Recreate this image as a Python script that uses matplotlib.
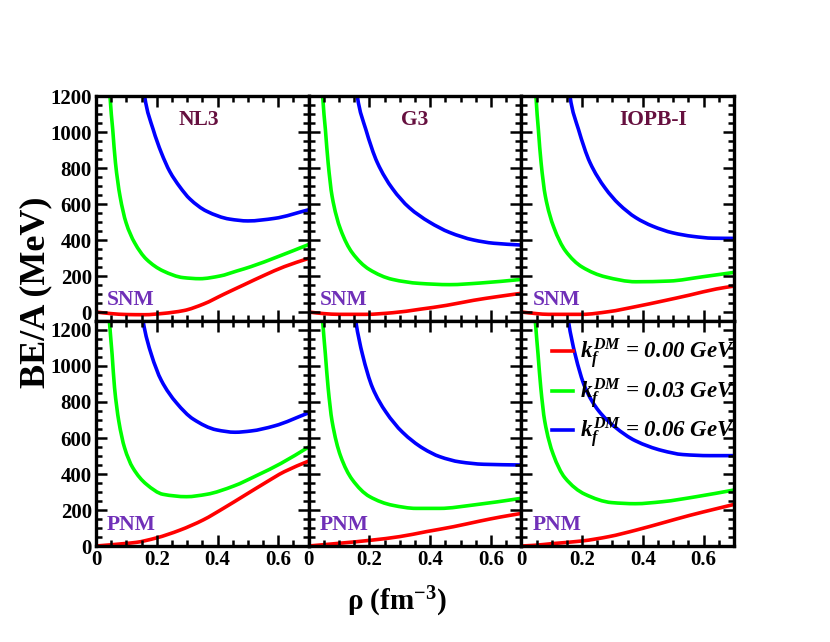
import matplotlib
matplotlib.use("Agg")
import matplotlib.pyplot as plt
from matplotlib.ticker import MultipleLocator
from matplotlib.path import Path
from matplotlib.patches import PathPatch
from matplotlib.lines import Line2D

plt.rcParams['font.family'] = ['Liberation Serif', 'DejaVu Serif']
plt.rcParams['font.weight'] = 'bold'
plt.rcParams['mathtext.fontset'] = 'custom'
plt.rcParams['mathtext.rm'] = 'Liberation Serif:bold'
plt.rcParams['mathtext.it'] = 'Liberation Serif:italic:bold'
plt.rcParams['mathtext.bf'] = 'Liberation Serif:bold'

models = ["NL3", "G3", "IOPB-I"]
matter = ["SNM", "PNM"]
kf_labels = ["0.00", "0.03", "0.06"]
colors = ["#ff0000", "#00ff00", "#0000ff"]

# ---- SNM data (rho in fm^-3, BE/A in MeV) ----
nl3_snm_red_x = [0, 0.05, 0.1, 0.16, 0.22, 0.289, 0.355, 0.42, 0.488, 0.554, 0.62, 0.7]
nl3_snm_red_y = [0, -9, -14, -15, -8, 8, 45, 98, 152, 204, 252, 298]
nl3_snm_green_x = [0.042, 0.046, 0.055, 0.064, 0.079, 0.099, 0.127, 0.166, 0.221, 0.287, 0.342, 0.408, 0.464, 0.51, 0.598, 0.7]
nl3_snm_green_y = [1350, 1200, 1015, 830, 644, 496, 385, 293, 228, 191, 185, 200, 228, 252, 307, 375]
nl3_snm_blue_x = [0.155, 0.16, 0.188, 0.215, 0.243, 0.276, 0.309, 0.364, 0.44, 0.5, 0.587, 0.7]
nl3_snm_blue_y = [1300, 1200, 1015, 885, 780, 695, 628, 560, 516, 506, 520, 568]

g3_snm_red_x = [0, 0.05, 0.1, 0.188, 0.277, 0.365, 0.454, 0.543, 0.62, 0.7]
g3_snm_red_y = [0, -9, -13, -13, -4, 15, 37, 65, 85, 104]
g3_snm_green_x = [0.042, 0.046, 0.055, 0.064, 0.077, 0.105, 0.143, 0.199, 0.276, 0.364, 0.464, 0.565, 0.7]
g3_snm_green_y = [1350, 1200, 1015, 830, 644, 459, 330, 237, 181, 159, 152, 161, 181]
g3_snm_blue_x = [0.155, 0.16, 0.188, 0.226, 0.276, 0.331, 0.397, 0.464, 0.543, 0.609, 0.7]
g3_snm_blue_y = [1300, 1200, 1015, 830, 685, 580, 500, 442, 400, 382, 372]

iopb_snm_red_x = [0, 0.05, 0.089, 0.2, 0.288, 0.377, 0.465, 0.554, 0.642, 0.7]
iopb_snm_red_y = [0, -9, -13, -13, 2, 30, 61, 94, 128, 144]
iopb_snm_green_x = [0.044, 0.048, 0.056, 0.065, 0.079, 0.107, 0.145, 0.2, 0.277, 0.377, 0.487, 0.598, 0.7]
iopb_snm_green_y = [1350, 1200, 1015, 830, 644, 470, 340, 250, 195, 168, 172, 196, 220]
iopb_snm_blue_x = [0.155, 0.16, 0.188, 0.226, 0.276, 0.321, 0.377, 0.432, 0.498, 0.565, 0.631, 0.7]
iopb_snm_blue_y = [1300, 1200, 1015, 830, 688, 600, 524, 477, 440, 420, 410, 409]

# ---- PNM data ----
nl3_pnm_red_x = [0, 0.044, 0.09, 0.132, 0.199, 0.276, 0.353, 0.42, 0.488, 0.554, 0.62, 0.7]
nl3_pnm_red_y = [0, 6, 13, 20, 45, 88, 145, 210, 280, 348, 413, 472]
nl3_pnm_green_x = [0.04, 0.044, 0.053, 0.061, 0.075, 0.094, 0.121, 0.166, 0.221, 0.298, 0.364, 0.453, 0.532, 0.609, 0.7]
nl3_pnm_green_y = [1350, 1250, 1065, 880, 694, 546, 435, 343, 287, 274, 287, 333, 394, 459, 550]
nl3_pnm_blue_x = [0.15, 0.155, 0.182, 0.215, 0.265, 0.32, 0.397, 0.458, 0.51, 0.587, 0.7]
nl3_pnm_blue_y = [1320, 1250, 1065, 920, 795, 705, 645, 632, 639, 667, 740]

g3_pnm_red_x = [0, 0.1, 0.21, 0.299, 0.388, 0.476, 0.565, 0.631, 0.7]
g3_pnm_red_y = [0, 15, 33, 52, 80, 107, 139, 161, 181]
g3_pnm_green_x = [0.042, 0.046, 0.055, 0.064, 0.077, 0.105, 0.143, 0.2, 0.277, 0.354, 0.432, 0.543, 0.7]
g3_pnm_green_y = [1350, 1250, 1065, 880, 694, 500, 370, 275, 226, 209, 209, 228, 265]
g3_pnm_blue_x = [0.15, 0.155, 0.177, 0.21, 0.254, 0.309, 0.377, 0.432, 0.498, 0.576, 0.7]
g3_pnm_blue_y = [1320, 1250, 1065, 880, 745, 632, 542, 496, 467, 454, 450]

iopb_pnm_red_x = [0, 0.044, 0.1, 0.2, 0.288, 0.377, 0.464, 0.554, 0.642, 0.7]
iopb_pnm_red_y = [0, 4, 13, 28, 52, 88, 128, 170, 207, 231]
iopb_pnm_green_x = [0.042, 0.046, 0.055, 0.064, 0.077, 0.105, 0.143, 0.21, 0.298, 0.375, 0.464, 0.576, 0.7]
iopb_pnm_green_y = [1350, 1250, 1065, 880, 694, 509, 380, 287, 241, 235, 246, 274, 311]
iopb_pnm_blue_x = [0.15, 0.155, 0.177, 0.21, 0.254, 0.309, 0.375, 0.464, 0.532, 0.62, 0.7]
iopb_pnm_blue_y = [1320, 1250, 1065, 880, 752, 660, 585, 530, 508, 502, 502]

panels = [
    [  # SNM row
        [(nl3_snm_red_x, nl3_snm_red_y), (nl3_snm_green_x, nl3_snm_green_y), (nl3_snm_blue_x, nl3_snm_blue_y)],
        [(g3_snm_red_x, g3_snm_red_y), (g3_snm_green_x, g3_snm_green_y), (g3_snm_blue_x, g3_snm_blue_y)],
        [(iopb_snm_red_x, iopb_snm_red_y), (iopb_snm_green_x, iopb_snm_green_y), (iopb_snm_blue_x, iopb_snm_blue_y)],
    ],
    [  # PNM row
        [(nl3_pnm_red_x, nl3_pnm_red_y), (nl3_pnm_green_x, nl3_pnm_green_y), (nl3_pnm_blue_x, nl3_pnm_blue_y)],
        [(g3_pnm_red_x, g3_pnm_red_y), (g3_pnm_green_x, g3_pnm_green_y), (g3_pnm_blue_x, g3_pnm_blue_y)],
        [(iopb_pnm_red_x, iopb_pnm_red_y), (iopb_pnm_green_x, iopb_pnm_green_y), (iopb_pnm_blue_x, iopb_pnm_blue_y)],
    ],
]


def smooth_path(xs, ys):
    """Cubic Bezier path passing through the read points (shape-preserving tangents)."""
    n = len(xs)
    h = [xs[i + 1] - xs[i] for i in range(n - 1)]
    d = [(ys[i + 1] - ys[i]) / h[i] for i in range(n - 1)]
    m = [0.0] * n
    m[0], m[-1] = d[0], d[-1]
    for i in range(1, n - 1):
        if d[i - 1] * d[i] <= 0:
            m[i] = 0.0
        else:
            w1 = 2 * h[i] + h[i - 1]
            w2 = h[i] + 2 * h[i - 1]
            m[i] = (w1 + w2) / (w1 / d[i - 1] + w2 / d[i])
    verts = [(xs[0], ys[0])]
    codes = [Path.MOVETO]
    for i in range(n - 1):
        verts += [(xs[i] + h[i] / 3, ys[i] + m[i] * h[i] / 3),
                  (xs[i + 1] - h[i] / 3, ys[i + 1] - m[i + 1] * h[i] / 3),
                  (xs[i + 1], ys[i + 1])]
        codes += [Path.CURVE4] * 3
    return Path(verts, codes)


ylims = [(-50, 1200), (0, 1250)]
name_x = [0.483, 0.5, 0.62]

fig = plt.figure(figsize=(8.3, 6.42), dpi=100)
left, right, top, bottom = 96 / 830, 734 / 830, 1 - 96 / 642, 1 - 546 / 642
gs = fig.add_gridspec(2, 3, left=left, right=right, top=top, bottom=bottom, wspace=0, hspace=0)

name_color = "#66103f"
mat_color = "#7030b8"
LW = 2.6

for r in range(2):
    for c in range(3):
        ax = fig.add_subplot(gs[r, c])
        for k, (xs, ys) in enumerate(panels[r][c]):
            ax.add_patch(PathPatch(smooth_path(xs, ys), fill=False, edgecolor=colors[k], lw=LW,
                                   capstyle='butt', joinstyle='round'))
        ax.set_xlim(0, 0.7)
        ax.set_ylim(*ylims[r])
        ax.xaxis.set_major_locator(MultipleLocator(0.2))
        ax.xaxis.set_minor_locator(MultipleLocator(0.05))
        ax.yaxis.set_major_locator(MultipleLocator(200))
        ax.yaxis.set_minor_locator(MultipleLocator(50))
        ax.tick_params(which='both', direction='in', top=True, right=True, width=1.8)
        ax.tick_params(which='major', length=8, labelsize=15, pad=3)
        ax.tick_params(which='minor', length=4.5)
        for s in ax.spines.values():
            s.set_linewidth(2.4)
        if r == 0:
            ax.tick_params(labelbottom=False)
            ax.text(name_x[c], 0.893, models[c], transform=ax.transAxes, ha='center', va='center',
                    fontsize=15.5, fontweight='bold', color=name_color)
        else:
            ax.set_xticks([0, 0.2, 0.4, 0.6])
            ax.set_xticklabels(["0", "0.2", "0.4", "0.6"])
        if c != 0:
            ax.tick_params(labelleft=False)
        ax.text(0.052, 0.093, matter[r], transform=ax.transAxes, ha='left', va='center',
                fontsize=15.5, fontweight='bold', color=mat_color)
        if r == 1 and c == 2:
            handles = [Line2D([], [], color=col, lw=LW) for col in colors]
            labels = [r'$k_f^{DM}$' + ' = ' + v + ' GeV' for v in kf_labels]
            ax.legend(handles, labels, loc='upper right', bbox_to_anchor=(1.10, 1.022), frameon=False,
                      handlelength=0.9, handletextpad=0.3, labelspacing=0.25,
                      prop={'family': 'Liberation Serif', 'style': 'italic', 'weight': 'bold', 'size': 16.5})

fig.text(0.0434, 0.545, "BE/A (MeV)", rotation=90, ha='center', va='center',
         fontsize=26, fontweight='bold')
fig.text(0.478, 0.062, r'$\mathrm{\rho}$ (fm$^{\mathbf{-3}}$)', ha='center', va='center',
         fontsize=21, fontweight='bold')

fig.savefig("out.png", dpi=100)
